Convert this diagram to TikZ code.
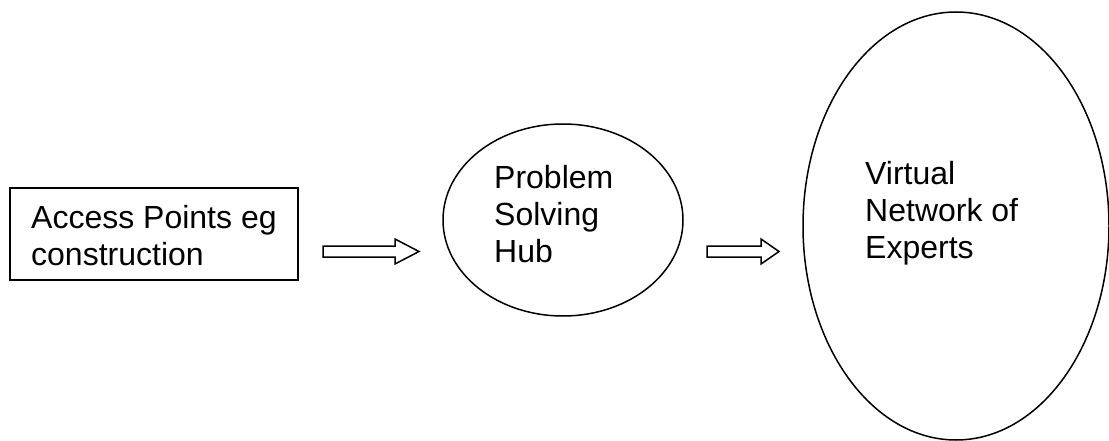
\documentclass[tikz,border=0pt]{standalone}
\usepackage{fontspec}
\setmainfont{Liberation Sans}
\usetikzlibrary{shapes.geometric}
\tikzset{
  outline/.style={draw=black, line width=1.5pt},
  label/.style={anchor=base west, align=left, inner sep=0pt, font=\fontsize{32}{36.8}\selectfont},
  blockarrow/.style={draw=black, line width=1.5pt, line join=miter}
}
\begin{document}
\begin{tikzpicture}[x=1pt,y=-1pt]
\useasboundingbox (0,0) rectangle (1109,441);
% box
\node[outline, rectangle, minimum width=288pt, minimum height=92pt, inner sep=0pt] (box) at (154,234) {};
\node[label] (boxtext) at (31,265) {Access Points eg\\construction};
% hub ellipse
\node[outline, ellipse, minimum width=240pt, minimum height=192pt, inner sep=0pt] (hub) at (563,220) {};
\node[label] (hubtext) at (494,262) {Problem\\Solving\\Hub};
% network ellipse
\node[outline, ellipse, minimum width=306pt, minimum height=428pt, inner sep=0pt] (net) at (956,226) {};
\node[label] (nettext) at (865,258) {Virtual\\Network of\\Experts};
% block arrows
\coordinate (a1) at (323,251.5);
\coordinate (a2) at (707,251.5);
\draw[blockarrow] (a1) ++(0,-5.5) -- ++(72,0) -- ++(0,-7) -- ++(24,12.5) -- ++(-24,12.5) -- ++(0,-7) -- ++(-72,0) -- cycle;
\draw[blockarrow] (a2) ++(0,-5.5) -- ++(54,0) -- ++(0,-7) -- ++(18,12.5) -- ++(-18,12.5) -- ++(0,-7) -- ++(-54,0) -- cycle;
\end{tikzpicture}
\end{document}
